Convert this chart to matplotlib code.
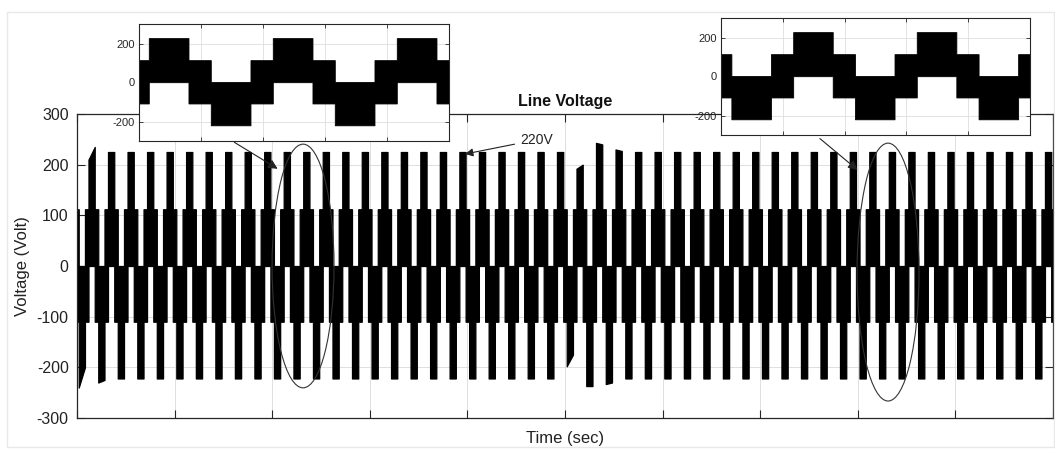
import numpy as np
import matplotlib
matplotlib.use("Agg")
import matplotlib.pyplot as plt
from matplotlib.patches import Ellipse, Rectangle

plt.rcParams['font.family'] = ['Liberation Sans', 'DejaVu Sans']
plt.rcParams['axes.unicode_minus'] = False

# ---------------- waveform description ----------------
period = 0.02            # s, 50 Hz fundamental
t_end = 1.0              # s
first_neg_start = 0.00176
# one cycle: negative peak band, bipolar band, positive peak band, bipolar band
seg_frac = [0.32, 0.18, 0.32, 0.18]
mid_pos = 112            # V, upper edge of the bipolar band
mid_neg = -110           # V, lower edge of the bipolar band

# positive peak of each cycle (start / end of the band)
pos_peak_start = [210, 225, 225, 225, 225, 225, 225, 225, 225, 225,
                  225, 225, 225, 225, 225, 225, 225, 225, 225, 225,
                  225, 225, 225, 225, 225, 192, 243, 230, 225, 225,
                  225, 225, 225, 225, 225, 225, 225, 225, 225, 225,
                  225, 225, 225, 225, 225, 225, 225, 225, 225, 225]
pos_peak_end = [235, 225, 225, 225, 225, 225, 225, 225, 225, 225,
                225, 225, 225, 225, 225, 225, 225, 225, 225, 225,
                225, 225, 225, 225, 225, 200, 240, 227, 225, 225,
                225, 225, 225, 225, 225, 225, 225, 225, 225, 225,
                225, 225, 225, 225, 225, 225, 225, 225, 225, 225]
# negative peak of each cycle (start / end of the band)
neg_peak_start = [-240, -230, -222, -222, -222, -222, -222, -222, -222, -222,
                  -222, -222, -222, -222, -222, -222, -222, -222, -222, -222,
                  -222, -222, -222, -222, -222, -198, -237, -233, -222, -222,
                  -222, -222, -222, -222, -222, -222, -222, -222, -222, -222,
                  -222, -222, -222, -222, -222, -222, -222, -222, -222, -222]
neg_peak_end = [-200, -225, -222, -222, -222, -222, -222, -222, -222, -222,
                -222, -222, -222, -222, -222, -222, -222, -222, -222, -222,
                -222, -222, -222, -222, -222, -175, -237, -230, -222, -222,
                -222, -222, -222, -222, -222, -222, -222, -222, -222, -222,
                -222, -222, -222, -222, -222, -222, -222, -222, -222, -222]

y_ticks_main = [-300, -200, -100, 0, 100, 200, 300]
y_ticks_inset = [-200, 0, 200]
inset1_window = (0.2301, 0.2801)
inset2_window = (0.8200, 0.8700)

# ---------------- build the band envelopes ----------------
ts, lows, highs = [], [], []


def add_band(t0, t1, lo0, lo1, hi0, hi1):
    if t1 <= 0 or t0 >= t_end:
        return
    a, b = max(t0, 0.0), min(t1, t_end)
    fa, fb = (a - t0) / (t1 - t0), (b - t0) / (t1 - t0)
    ts.extend([a, b])
    lows.extend([lo0 + (lo1 - lo0) * fa, lo0 + (lo1 - lo0) * fb])
    highs.extend([hi0 + (hi1 - hi0) * fa, hi0 + (hi1 - hi0) * fb])


add_band(first_neg_start - seg_frac[3] * period, first_neg_start,
         mid_neg, mid_neg, mid_pos, mid_pos)
for k in range(len(pos_peak_start)):
    t = first_neg_start + k * period
    d = [f * period for f in seg_frac]
    add_band(t, t + d[0], neg_peak_start[k], neg_peak_end[k], 0, 0)
    t += d[0]
    add_band(t, t + d[1], mid_neg, mid_neg, mid_pos, mid_pos)
    t += d[1]
    add_band(t, t + d[2], 0, 0, pos_peak_start[k], pos_peak_end[k])
    t += d[2]
    add_band(t, t + d[3], mid_neg, mid_neg, mid_pos, mid_pos)

ts = np.array(ts)
lows = np.array(lows)
highs = np.array(highs)

# ---------------- figure ----------------
W, H = 1055, 451
fig = plt.figure(figsize=(W / 100, H / 100), dpi=100)
fig.patches.append(Rectangle((7 / W, 4 / H), 1047 / W, 435 / H, transform=fig.transFigure,
                             fill=False, ec='#e8e8e8', lw=1.0))

axis_col = '#262626'
grid_col = '#dedede'

ax = fig.add_axes([77 / W, 1 - 418 / H, 976 / W, 304 / H])
ax.fill_between(ts, lows, highs, color='black', ec='black', lw=0.9)
ax.set_xlim(0, t_end)
ax.set_ylim(-300, 300)
ax.set_xticks(np.linspace(0, t_end, 11))
ax.set_xticklabels([])
ax.set_yticks(y_ticks_main)
ax.tick_params(direction='in', top=True, right=True, length=6, width=0.8,
               colors=axis_col, labelsize=11.5, pad=6)
ax.tick_params(axis='y', labelcolor='#222222')
ax.grid(True, color=grid_col, lw=0.7)
ax.set_axisbelow(True)
for s in ax.spines.values():
    s.set_color(axis_col)
    s.set_linewidth(0.9)
ax.set_title('Line Voltage', fontsize=11.5, fontweight='bold', pad=6, color='#111111')
ax.set_xlabel('Time (sec)', fontsize=12, labelpad=3, color='#222222')
ax.set_ylabel('Voltage (Volt)', fontsize=12, labelpad=5, color='#222222')

# highlighted regions
for cx, cy, w, h in [(0.2316, 0, 0.0635, 481), (0.831, -12, 0.0635, 509)]:
    ax.add_patch(Ellipse((cx, cy), w, h, fill=False, ec='#333333', lw=0.8, zorder=5))

arrow_kw = dict(arrowstyle='-|>', color='#222222', lw=0.8, mutation_scale=14)
ax.annotate('', xy=(0.208, 189), xytext=(0.1588, 247), arrowprops=arrow_kw, zorder=6)
ax.annotate('', xy=(0.802, 186), xytext=(0.759, 255), arrowprops=arrow_kw, zorder=6)
ax.annotate('220V', xy=(0.3975, 221), xytext=(0.4539, 249),
            fontsize=10, color='#222222', va='center', ha='left',
            arrowprops=dict(arrowstyle='-|>', color='#222222', lw=0.8,
                            mutation_scale=12, shrinkA=2, shrinkB=0), zorder=6)


def draw_inset(rect, window):
    ai = fig.add_axes(rect)
    ai.set_facecolor('white')
    ai.fill_between(ts, lows, highs, color='black', ec='black', lw=0.6)
    ai.set_xlim(*window)
    ai.set_ylim(-300, 300)
    ai.set_xticks(np.linspace(window[0], window[1], 6))
    ai.set_xticklabels([])
    ai.set_yticks(y_ticks_inset)
    ai.tick_params(direction='in', top=True, right=True, length=3, width=0.6,
                   colors=axis_col, labelsize=8, pad=3)
    ai.grid(True, color=grid_col, lw=0.6)
    ai.set_axisbelow(True)
    for s in ai.spines.values():
        s.set_color(axis_col)
        s.set_linewidth(0.8)
    return ai


draw_inset([139 / W, 1 - 141 / H, 310 / W, 117 / H], inset1_window)
draw_inset([721 / W, 1 - 135 / H, 309 / W, 117 / H], inset2_window)

fig.savefig('out.png', dpi=100)
